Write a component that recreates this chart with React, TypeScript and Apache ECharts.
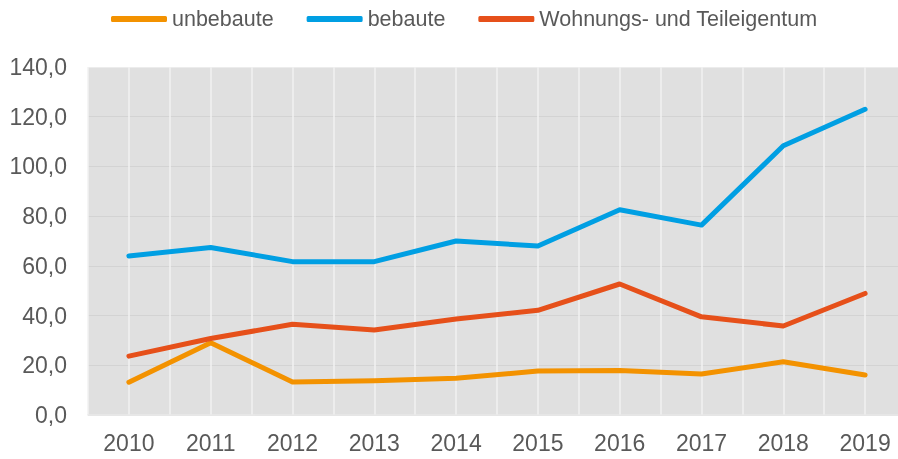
import React, { useEffect, useRef } from "react";
import * as echarts from "echarts";

const years = ["2010", "2011", "2012", "2013", "2014", "2015", "2016", "2017", "2018", "2019"];
const unbebaute = [13.2, 29.1, 13.3, 13.8, 14.8, 17.7, 17.9, 16.5, 21.4, 16.1];
const bebaute = [64.0, 67.4, 61.7, 61.7, 70.0, 68.0, 82.6, 76.4, 108.3, 123.0];
const wohnungs = [23.7, 30.8, 36.5, 34.2, 38.6, 42.1, 52.7, 39.5, 35.8, 48.9];
const seriesNames = ["unbebaute", "bebaute", "Wohnungs- und Teileigentum"];
const seriesColors = ["#F39200", "#009FE3", "#E6501A"];
const halfSteps = Array.from({ length: years.length * 2 }, (_, i) => String(i));

const FONT = "'Liberation Sans', Arial, sans-serif";
const TEXT = "#595959";

export default function App() {
  const ref = useRef<HTMLDivElement>(null);
  useEffect(() => {
    if (!ref.current) return;
    const chart = echarts.init(ref.current, null, { renderer: "svg" });
    const data = [unbebaute, bebaute, wohnungs];
    chart.setOption({
      animation: false,
      textStyle: { fontFamily: FONT },
      legend: {
        left: 106,
        top: 3,
        itemWidth: 56,
        itemHeight: 6,
        itemGap: 33,
        icon: "roundRect",
        textStyle: { fontSize: 21.5, color: TEXT, fontFamily: FONT },
        data: seriesNames,
      },
      grid: {
        left: 88,
        right: 0,
        top: 67,
        height: 348,
        show: true,
        backgroundColor: "#e0e0e0",
        borderWidth: 0,
      },
      xAxis: [
        {
          type: "category",
          data: years,
          boundaryGap: true,
          axisLine: { show: true, lineStyle: { color: "#e9e9e9", width: 1.5 } },
          axisTick: { show: false },
          splitLine: { show: false },
          axisLabel: { fontSize: 23, color: TEXT, margin: 16, fontFamily: FONT },
        },
        {
          type: "category",
          data: halfSteps,
          boundaryGap: true,
          position: "bottom",
          axisLine: { show: false },
          axisTick: { show: false },
          axisLabel: { show: false },
          splitLine: { show: true, interval: 0, lineStyle: { color: "#f2f2f2", width: 1.5 } },
        },
      ],
      yAxis: {
        type: "value",
        min: 0,
        max: 140,
        interval: 20,
        axisLine: { show: false },
        axisTick: { show: false },
        axisLabel: {
          fontSize: 23,
          color: TEXT,
          margin: 21,
          fontFamily: FONT,
          formatter: (v: number) => v.toFixed(1).replace(".", ","),
        },
        splitLine: {
          show: true,
          lineStyle: {
            color: ["#e0e0e0", "#d3d3d3", "#d3d3d3", "#d3d3d3", "#d3d3d3", "#d3d3d3", "#d3d3d3", "#ececec"],
            width: 1.2,
          },
        },
      },
      series: seriesNames.map((name, i) => ({
        name,
        type: "line",
        xAxisIndex: 0,
        data: data[i],
        showSymbol: false,
        symbol: "none",
        color: seriesColors[i],
        lineStyle: { width: 5, color: seriesColors[i], cap: "round", join: "round" },
        itemStyle: { color: seriesColors[i] },
      })),
    });
    return () => chart.dispose();
  }, []);
  return (
    <div
      ref={ref}
      style={{ position: "fixed", left: 0, top: 0, width: 906, height: 459 }}
    />
  );
}
